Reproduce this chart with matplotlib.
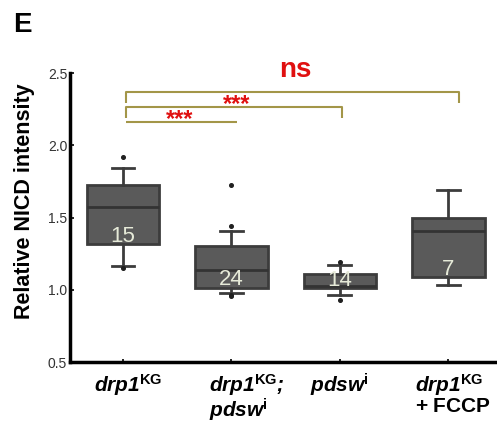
import matplotlib
matplotlib.use("Agg")
import matplotlib.pyplot as plt
import matplotlib.transforms as mtransforms

plt.rcParams['font.family'] = ['Liberation Sans', 'DejaVu Sans']
plt.rcParams['mathtext.fontset'] = 'custom'
plt.rcParams['mathtext.rm'] = 'Liberation Sans'
plt.rcParams['mathtext.bf'] = 'Liberation Sans:bold'
plt.rcParams['mathtext.it'] = 'Liberation Sans:italic'
plt.rcParams['mathtext.bfit'] = 'Liberation Sans:bold:italic'

# Genotypes / treatments
categories = [
    r'$\mathbfit{drp1}^{\mathbf{KG}}$',
    r'$\mathbfit{drp1}^{\mathbf{KG}}\mathbfit{;}$' + '\n' + r'$\mathbfit{pdsw}^{\mathbf{i}}$',
    r'$\mathbfit{pdsw}^{\mathbf{i}}$',
    r'$\mathbfit{drp1}^{\mathbf{KG}}$' + '\n' + r'$\mathbf{+\ FCCP}$',
]
n_larvae = [15, 24, 14, 7]

# Box statistics (relative NICD intensity)
q1 = [1.314, 1.014, 1.010, 1.086]
median = [1.575, 1.139, 1.026, 1.409]
q3 = [1.727, 1.300, 1.111, 1.497]
whisker_low = [1.164, 0.975, 0.966, 1.033]
whisker_high = [1.845, 1.409, 1.171, 1.690]
outliers = [[1.920, 1.148], [1.723, 1.440, 0.959, 0.962], [1.194, 0.931], []]

yticks = [0.5, 1.0, 1.5, 2.0, 2.5]
ytick_labels = ['0.5', '1.0', '1.5', '2.0', '2.5']

fig = plt.figure(figsize=(4.97, 4.23), dpi=100)
ax = fig.add_axes([0.1408, 0.1442, 0.8592, 0.6832])

stats = []
for i in range(len(categories)):
    stats.append(dict(q1=q1[i], med=median[i], q3=q3[i],
                      whislo=whisker_low[i], whishi=whisker_high[i],
                      fliers=outliers[i]))

box_edge = '#3c3c3c'
ax.bxp(stats, positions=range(len(categories)), widths=0.67, patch_artist=True,
       showfliers=True,
       boxprops=dict(facecolor='#5a5a5a', edgecolor=box_edge, linewidth=2),
       medianprops=dict(color='#333333', linewidth=2),
       whiskerprops=dict(color=box_edge, linewidth=2),
       capprops=dict(color=box_edge, linewidth=2),
       capwidths=0.21,
       flierprops=dict(marker='o', markersize=2.6, markerfacecolor='#202020',
                       markeredgecolor='#202020'))

# sample sizes inside the boxes
for i, n in enumerate(n_larvae):
    ax.annotate(str(n), (i, q1[i]), xytext=(0, 2), textcoords='offset points',
                ha='center', va='baseline', fontsize=16, color='#e6ead8')

ax.set_xlim(-0.49, 3.45)
ax.set_ylim(0.5, 2.5)
ax.set_yticks(yticks)
ax.set_yticklabels(ytick_labels, fontsize=10, color='#333333')
ax.set_xticks(range(len(categories)))
ax.set_xticklabels(categories, fontsize=15, multialignment='left', linespacing=0.95)
ax.tick_params(axis='y', direction='in', length=3, width=1.2, pad=2)
ax.tick_params(axis='x', direction='in', length=2, width=1.2, pad=7)
for lbl, dx in zip(ax.get_xticklabels(), [0.05, 0.15, 0.0, 0.05]):
    lbl.set_transform(lbl.get_transform() +
                      mtransforms.ScaledTranslation(dx, 0, fig.dpi_scale_trans))

for s in ['top', 'right']:
    ax.spines[s].set_visible(False)
for s in ['left', 'bottom']:
    ax.spines[s].set_linewidth(2.5)
    ax.spines[s].set_color('black')

# significance brackets
bracket_color = '#a39648'
def bracket(x0, x1, y, drop, left=True, right=True):
    xs, ys = [], []
    if left:
        xs += [x0]; ys += [y - drop]
    xs += [x0, x1]; ys += [y, y]
    if right:
        xs += [x1]; ys += [y - drop]
    ax.plot(xs, ys, color=bracket_color, lw=1.5, clip_on=False,
            solid_capstyle='butt')

bracket(0.03, 3.1, 2.37, 0.076)
bracket(0.03, 2.02, 2.265, 0.076)
bracket(0.03, 1.05, 2.161, 0.0, left=False, right=False)

ax.text(1.05, 2.285, '***', color='#e01010', fontsize=17, fontweight='bold',
        ha='center', va='center')
ax.text(0.52, 2.18, '***', color='#e01010', fontsize=17, fontweight='bold',
        ha='center', va='center')
ax.text(1.59, 2.52, 'ns', color='#e01010', fontsize=20, fontweight='bold',
        ha='center', va='center', clip_on=False)

fig.text(0.050, 0.524, 'Relative NICD intensity', rotation=90, fontsize=15.5,
         fontweight='bold', ha='center', va='center')
fig.text(0.026, 0.972, 'E', fontsize=20, fontweight='bold', ha='left', va='top')

fig.savefig('out.png', dpi=100)
